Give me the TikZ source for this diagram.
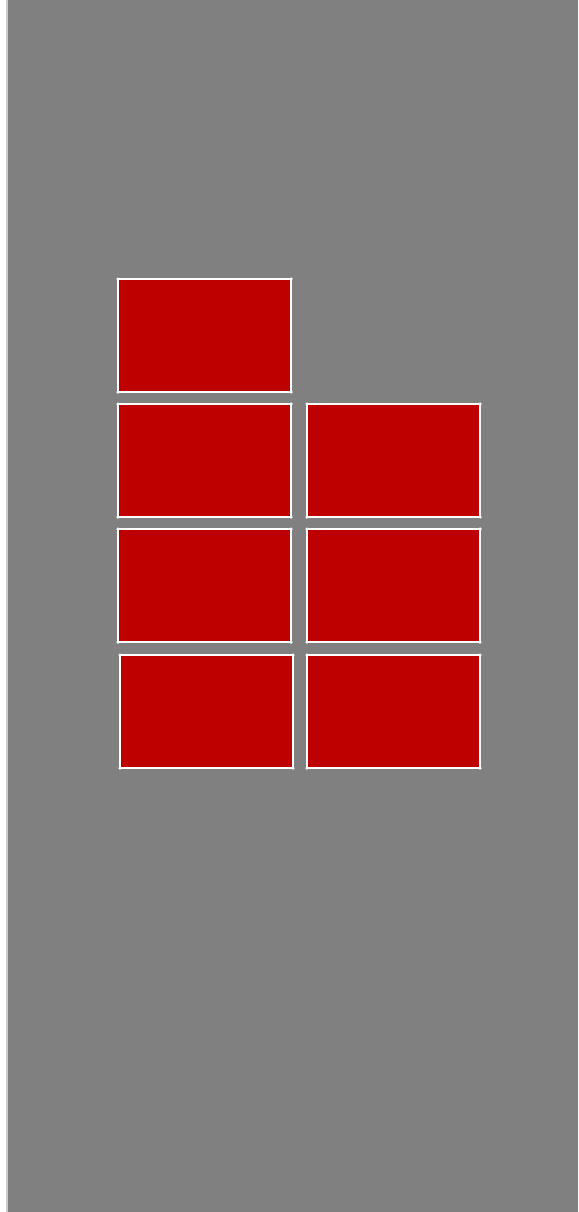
\documentclass[tikz,border=0pt]{standalone}
\usetikzlibrary{positioning}

\begin{document}
\begin{tikzpicture}[
    x=1pt, y=-1pt,
    brick/.style={draw=white, line width=2pt, fill=red!75!black,
                  minimum width=173pt, minimum height=113pt,
                  inner sep=0pt, outer sep=0pt},
    cdot/.style={fill=white, circle, inner sep=0pt, minimum size=3.5pt}
  ]
  \useasboundingbox (0,0) rectangle (578,1212);
  % background
  \fill[white] (0,0) rectangle (8,1212);
  \fill[gray!40] (6,0) rectangle (8,1212);
  \fill[gray] (8,0) rectangle (578,1212);

  % Row 1
  \node[brick, anchor=north west] (b11) at (118,279) {};

  % Row 2
  \node[brick, anchor=north west] (b21) at (118,404) {};
  \node[brick, anchor=north west] (b22) at (307,404) {};

  % Row 3
  \node[brick, anchor=north west] (b31) at (118,529) {};
  \node[brick, anchor=north west] (b32) at (307,529) {};

  % Row 4
  \node[brick, anchor=north west] (b41) at (120,655) {};
  \node[brick, anchor=north west] (b42) at (307,655) {};

  % corner dots
  \foreach \b in {b11,b21,b22,b31,b32,b41,b42}
    \foreach \c in {north west,north east,south west,south east}
      \node[cdot] at (\b.\c) {};
\end{tikzpicture}
\end{document}
